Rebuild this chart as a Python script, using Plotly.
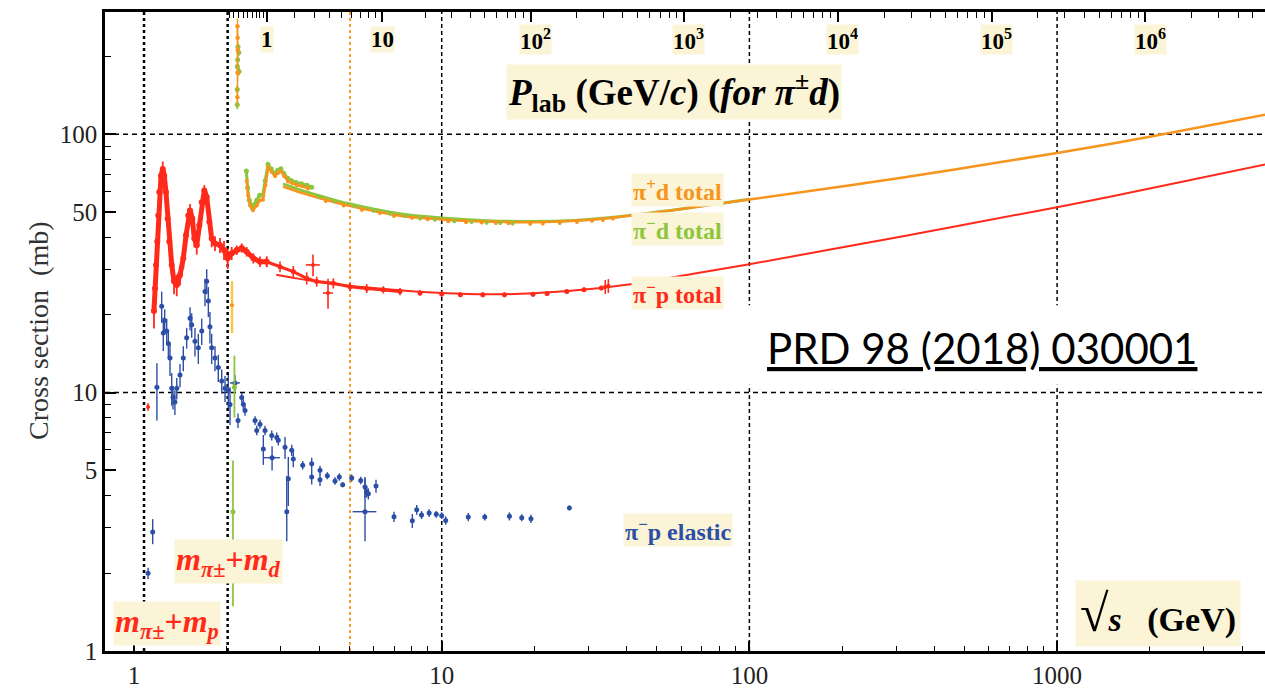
import numpy as np
import plotly.graph_objects as go

# ---------------- masses (GeV) ----------------
M_PI, M_P, M_D = 0.13957, 0.93827, 1.87561

# ---------------- pi- p total : data (resonance region) ----------------
pimp_res_x = [1.161, 1.170, 1.179, 1.190, 1.199, 1.208, 1.224, 1.240, 1.254, 1.270, 1.286, 1.302,
              1.326, 1.349, 1.377, 1.411, 1.446, 1.476, 1.501, 1.521, 1.547, 1.570, 1.599, 1.630,
              1.660, 1.692, 1.723, 1.757, 1.788, 1.833, 1.903, 1.961, 2.016, 2.077, 2.157, 2.239,
              2.324, 2.442, 2.567, 2.699]
pimp_res_y = [20.7, 25.3, 31.2, 38.4, 48.5, 59.7, 69.1, 73.4, 69.1, 59.7, 47.1, 38.4,
              31.2, 27.0, 26.1, 28.5, 33.1, 40.6, 48.5, 50.7, 47.1, 39.5, 37.2, 44.4,
              54.6, 60.5, 57.1, 45.8, 39.5, 37.8, 37.2, 35.6, 33.1, 34.6, 35.6, 36.3,
              35.1, 33.1, 32.1, 32.1]
pimp_res_err = [3, 3, 3, 3, 3, 4, 5, 5, 4, 3, 3, 3,
                3, 3, 2.5, 2.5, 3, 3, 3, 3, 3, 3, 3, 3,
                3, 3, 3, 3, 3, 2.5, 2.5, 3, 3, 2, 1.5, 1.5,
                1.5, 1.5, 1.5, 1.5]
# ---------------- pi- p total : data (above resonances) ----------------
pimp_mid_x = [2.699, 2.982, 3.294, 3.641, 3.924, 4.444, 5.035, 5.706, 6.46, 7.32]
pimp_mid_y = [32.1, 30.7, 29.4, 27.7, 26.9, 26.5, 25.7, 25.3, 25.0, 24.6]
pimp_mid_err = [1.5, 1.5, 1.5, 1.5, 1.2, 1.2, 1, 1, 0.8, 0.8]
pimp_hi_x = [8.5, 10.0, 11.5, 13.6, 16.0, 19.8, 22.0, 25.5, 29.0, 33.0]
pimp_hi_y = [24.3, 24.1, 23.9, 23.9, 23.9, 24.0, 24.2, 24.6, 25.0, 25.4]
pimp_hi_err = [0.6, 0.6, 0.5, 0.5, 0.5, 0.5, 0.5, 0.5, 0.5, 0.5]
# isolated pi- p total points (with larger errors)
pimp_iso_x = [1.111, 3.817, 4.271, 34.0, 34.8]
pimp_iso_y = [8.8, 31.2, 24.3, 25.7, 25.9]
pimp_iso_eplus = [0.3, 3.0, 3.3, 1.6, 1.6]
pimp_iso_eminus = [0.3, 3.0, 3.2, 1.6, 1.6]
pimp_iso_ex = [0.0, 0.2, 0.16, 0.0, 0.0]

# ---------------- pi- p total : fit ----------------
pimp_fit_x = [2.9, 3.3, 4.0, 5.0, 7.3, 10, 14.1, 20, 31.6, 44.7, 63.1, 100, 316, 1000, 2000, 4750]
pimp_fit_y = [28.6, 27.8, 26.8, 25.9, 24.9, 24.3, 24.0, 24.25, 25.3, 26.7, 28.6, 31.4, 40.3, 52.2,
              61.6, 76.4]

# ---------------- pi+ d / pi- d total : fits ----------------
pipd_fit_x = [3.05, 3.5, 4.0, 5.0, 7.3, 10, 14, 20, 27, 37, 54, 100, 316, 1000, 2000, 4750]
pipd_fit_y = [62.7, 59.3, 56.6, 52.8, 48.4, 46.8, 45.9, 45.6, 46.2, 47.7, 50.4, 55.9, 68.0, 84.6,
              97.8, 118.9]
pimd_fit_x = [3.05, 3.5, 4.0, 5.0, 7.3, 10, 14, 20, 27, 37, 54, 100]
pimd_fit_y = [64.2, 60.6, 57.8, 53.8, 49.2, 47.4, 46.3, 45.9, 46.4, 47.8, 50.5, 56.0]

# ---------------- pi+ d total : data ----------------
pipd_low_x = [2.324, 2.348, 2.382, 2.436, 2.505, 2.567, 2.626, 2.676, 2.732, 2.80, 2.872, 2.94,
              3.005, 3.08, 3.166, 3.27, 3.379, 3.52, 3.678]
pipd_low_y = [66.0, 58.0, 53.0, 50.8, 53.0, 55.5, 55.8, 63.5, 74.5, 71.5, 68.8, 70.8,
              71.8, 68.8, 65.6, 64.6, 63.6, 62.9, 61.7]
pipd_hi_x = [4.2, 4.8, 5.5, 6.3, 7.0, 8.0, 9.0, 10.5, 12.0, 13.5, 15.0, 16.5, 19.4, 21.3, 24.2,
             27.5, 30.8, 33.4, 36.0]
pipd_hi_y = [55.2, 53.0, 51.0, 49.6, 48.3, 47.5, 46.9, 46.0, 45.6, 45.5, 45.3, 45.2, 45.0, 45.1,
             45.3, 45.7, 46.3, 46.6, 47.2]
pipd_thr_x = [2.168, 2.171, 2.173, 2.170, 2.167]
pipd_thr_y = [262, 236, 212, 173, 139]

# ---------------- pi- d total : data ----------------
pimd_low_x = [2.318, 2.34, 2.37, 2.42, 2.46, 2.505, 2.56, 2.62, 2.67, 2.725, 2.79, 2.86, 2.93,
              3.0, 3.07, 3.16, 3.25, 3.36, 3.5, 3.65, 3.78]
pimd_low_y = [72.0, 62.0, 55.5, 52.0, 53.5, 55.5, 58.0, 58.0, 66.0, 76.5, 73.5, 70.5, 72.5,
              73.5, 70.5, 67.5, 66.0, 65.0, 64.3, 63.5, 62.4]
pimd_hi_x = [4.0, 4.5, 5.2, 6.0, 6.8, 7.6, 8.5, 9.5, 11, 12.5, 14, 15.5, 17]
pimd_hi_y = [57.0, 54.9, 52.6, 50.6, 49.2, 48.2, 47.2, 46.7, 46.0, 45.7, 45.4, 45.3, 45.1]
pimd_thr_x = [2.178, 2.19, 2.172, 2.167, 2.195, 2.166, 2.166, 2.12, 2.097]
pimd_thr_y = [218, 207, 194, 183, 175, 149, 130, 10.5, 3.46]
pimd_thr_ep = [6, 6, 6, 6, 6, 5, 5, 3.4, 2.0]
pimd_thr_em = [6, 6, 6, 6, 6, 5, 5, 2.5, 1.97]

# a single pi d point (gold)
gold_x = [2.082]
gold_y = [21.8]
gold_ep = [5.2]
gold_em = [4.8]

# ---------------- pi- p elastic ----------------
pimp_el_x = [1.111, 1.150, 1.187, 1.230, 1.245, 1.258, 1.277, 1.293, 1.309, 1.326, 1.339, 1.358,
             1.377, 1.411, 1.446, 1.483, 1.521, 1.540, 1.578, 1.618, 1.660, 1.701, 1.723, 1.744,
             1.765, 1.788, 1.833, 1.879, 1.928, 1.976, 2.025, 2.051, 2.129, 2.178, 2.239, 2.266,
             2.295, 2.474, 2.505, 2.567, 2.632, 2.665, 2.803, 2.81, 2.910, 2.944, 3.096, 3.136,
             3.173, 3.255, 3.294, 3.534, 3.78, 3.78, 4.022, 4.022, 4.249, 4.5, 4.647, 4.767,
             5.099, 5.455, 5.633, 5.706, 5.775, 5.633, 6.116, 6.998, 8.025, 8.294, 8.6, 9.1,
             9.6, 10.0, 10.3, 12.2, 13.8, 16.6, 18.2, 19.5, 26.0]
pimp_el_y = [2.0, 2.89, 10.5, 21.6, 17.0, 19.0, 17.3, 15.5, 13.6, 10.4, 9.6, 9.2,
             10.4, 11.7, 13.6, 16.3, 19.4, 18.3, 15.8, 14.9, 17.3, 24.6, 27.0, 22.6,
             18.0, 14.9, 13.6, 12.5, 11.1, 10.4, 10.2, 9.0, 10.9, 7.8, 9.57, 9.02,
             8.53, 7.80, 7.14, 7.55, 6.05, 7.14, 6.83, 5.6, 6.71, 6.54, 6.14, 3.46,
             4.64, 5.98, 5.54, 5.24, 5.30, 4.71, 5.01, 4.60, 4.77, 4.55, 4.71, 4.40,
             4.67, 4.57, 4.31, 4.13, 4.06, 3.46, 4.35, 3.31, 3.19, 3.52, 3.36, 3.42,
             3.38, 3.34, 3.2, 3.3, 3.3, 3.32, 3.28, 3.25, 3.58]
pimp_el_ep = [0.1, 0.35, 2.5, 3.0, 2.5, 2.0, 2.0, 2.0, 2.0, 1.5, 1.0, 1.0,
              1.0, 1.2, 1.5, 1.5, 2.0, 2.0, 2.0, 2.0, 2.0, 3.0, 3.0, 3.0,
              2.5, 2.0, 1.5, 1.5, 1.2, 1.2, 1.5, 1.5, 0.8, 0.5, 0.4, 0.4,
              0.4, 0.3, 0.3, 0.3, 0.8, 0.3, 0.3, 0.6, 0.3, 0.3, 0.6, 1.3,
              1.0, 0.3, 0.4, 0.2, 0.3, 0.3, 0.2, 0.25, 0.15, 0.15, 0.15, 0.1,
              0.15, 0.15, 0.4, 0.2, 0.2, 1.2, 0.25, 0.15, 0.2, 0.15, 0.12, 0.12,
              0.1, 0.1, 0.12, 0.12, 0.1, 0.12, 0.1, 0.12, 0.08]
pimp_el_em = [0.1, 0.3, 2.7, 3.0, 2.5, 2.0, 2.0, 2.0, 2.0, 1.5, 1.0, 1.0,
              1.0, 1.2, 1.5, 1.5, 2.0, 2.0, 2.0, 2.0, 2.0, 3.0, 3.0, 3.0,
              2.5, 2.0, 1.5, 1.5, 1.2, 1.2, 1.5, 1.5, 0.8, 0.5, 0.4, 0.4,
              0.4, 0.3, 0.3, 0.3, 0.8, 0.3, 0.3, 0.6, 0.3, 0.3, 0.6, 0.8,
              1.0, 0.3, 0.4, 0.2, 0.3, 0.3, 0.2, 0.25, 0.15, 0.15, 0.15, 0.1,
              0.15, 0.15, 0.4, 0.2, 0.2, 0.8, 0.25, 0.15, 0.2, 0.15, 0.12, 0.12,
              0.1, 0.1, 0.12, 0.12, 0.1, 0.12, 0.1, 0.12, 0.08]
pimp_el_ex = [0] * 32 + [0.08] + [0] * 10 + [0.17] + [0] * 21 + [0.5] + [0] * 15

# ---------------- reference lines ----------------
thresholds = [M_PI + M_P, M_PI + M_D]        # m_pi + m_p, m_pi + m_d
decade_lines_x = [10, 100, 1000]
decade_lines_y = [10, 100]
orange_line_x = [5.035]

# ---------------- axes ----------------
x_ticks = [1, 10, 100, 1000]
x_ticktext = ["1", "10", "100", "1000"]
x_minor = [m * d for d in (1, 10, 100, 1000) for m in range(2, 10) if m * d < 4800]
y_ticks = [1, 5, 10, 50, 100]
y_ticktext = ["1", "5", "10", "50", "100"]
y_minor = [2, 3, 4, 6, 7, 8, 9, 20, 30, 40, 60, 70, 80, 90, 200]
p_major = [1, 10, 100, 1000, 1e4, 1e5, 1e6]
p_labels = ["1", "10", "10<sup>2</sup>", "10<sup>3</sup>", "10<sup>4</sup>", "10<sup>5</sup>", "10<sup>6</sup>"]
p_minor = [0.1 * m for m in range(1, 10)] + [m * d for d in (1, 10, 100, 1000, 1e4, 1e5, 1e6)
                                           for m in range(2, 10) if m * d < 6e6]

X_RANGE = [-0.0943, 3.6757]
Y_RANGE = [0.0, 2.473]


def sqrt_s_pid(p):
    p = np.asarray(p, dtype=float)
    return np.sqrt(M_PI**2 + M_D**2 + 2 * M_D * np.sqrt(p**2 + M_PI**2))


RED = "#ff2a1a"
BLUE = "#2c4ea6"
ORANGE = "#f7941d"
GREEN = "#8cc63f"
GOLD = "#f9c74f"
LBG = "#fcf4d6"
SERIF = "Liberation Serif"

W, H = 1265, 689
ML, MR, MT, MB = 105, 0, 12, 34
PW, PH = W - ML - MR, H - MT - MB


def px(xp):
    return (xp - ML) / PW


def py(yp):
    return 1 - (yp - MT) / PH


fig = go.Figure()

YLO, YHI = 10 ** Y_RANGE[0], 10 ** Y_RANGE[1]

# reference lines (drawn first so they sit underneath the data)
for xv in thresholds:
    fig.add_trace(go.Scatter(x=[xv, xv], y=[YLO, YHI], mode="lines",
                             line=dict(color="black", width=2.5, dash="3px,3px"),
                             hoverinfo="skip", showlegend=False))
for xv in decade_lines_x:
    fig.add_trace(go.Scatter(x=[xv, xv], y=[YLO, YHI], mode="lines",
                             line=dict(color="black", width=1.5, dash="4px,3px"),
                             hoverinfo="skip", showlegend=False))
for yv in decade_lines_y:
    fig.add_trace(go.Scatter(x=[10 ** X_RANGE[0], 10 ** X_RANGE[1]], y=[yv, yv], mode="lines",
                             line=dict(color="black", width=1.5, dash="5px,4px"),
                             hoverinfo="skip", showlegend=False))
for xv in orange_line_x:
    fig.add_trace(go.Scatter(x=[xv, xv], y=[YLO, YHI], mode="lines",
                             line=dict(color=ORANGE, width=1.8, dash="3px,3px"),
                             hoverinfo="skip", showlegend=False))


def err(arr, minus=None, color="black", th=1.4):
    d = dict(type="data", array=arr, color=color, thickness=th, width=0, visible=True)
    if minus is not None:
        d["arrayminus"] = minus
    return d


# pi- p elastic (blue)
fig.add_trace(go.Scatter(x=pimp_el_x, y=pimp_el_y, mode="markers",
                         marker=dict(color=BLUE, size=5),
                         error_y=err(pimp_el_ep, pimp_el_em, BLUE),
                         error_x=err(pimp_el_ex, None, BLUE),
                         showlegend=False))

# gold point and pi- d threshold points
fig.add_trace(go.Scatter(x=gold_x, y=gold_y, mode="markers", marker=dict(color=ORANGE, size=4),
                         error_y=err(gold_ep, gold_em, GOLD, 2.5), showlegend=False))
fig.add_trace(go.Scatter(x=pimd_thr_x, y=pimd_thr_y, mode="markers", marker=dict(color=GREEN, size=5),
                         error_y=err(pimd_thr_ep, pimd_thr_em, GREEN, 1.8), showlegend=False))
fig.add_trace(go.Scatter(x=pipd_thr_x, y=pipd_thr_y, mode="lines+markers",
                         line=dict(color=ORANGE, width=1.5),
                         marker=dict(color=ORANGE, size=4.5),
                         error_y=dict(type="percent", value=7, color=ORANGE, thickness=1.4, width=0),
                         showlegend=False))

# pi- p total (red)
fig.add_trace(go.Scatter(x=pimp_fit_x, y=pimp_fit_y, mode="lines", line=dict(color=RED, width=2, shape="spline"),
                         showlegend=False))
fig.add_trace(go.Scatter(x=pimp_res_x, y=pimp_res_y, mode="lines+markers",
                         line=dict(color=RED, width=5), marker=dict(color=RED, size=6),
                         error_y=err(pimp_res_err, None, RED, 1.8), showlegend=False))
fig.add_trace(go.Scatter(x=pimp_mid_x, y=pimp_mid_y, mode="lines+markers",
                         line=dict(color=RED, width=3), marker=dict(color=RED, size=5),
                         error_y=err(pimp_mid_err, None, RED, 1.6), showlegend=False))
fig.add_trace(go.Scatter(x=pimp_hi_x, y=pimp_hi_y, mode="markers", marker=dict(color=RED, size=5),
                         error_y=err(pimp_hi_err, None, RED, 1.6), showlegend=False))
fig.add_trace(go.Scatter(x=pimp_iso_x, y=pimp_iso_y, mode="markers", marker=dict(color=RED, size=4),
                         error_y=err(pimp_iso_eplus, pimp_iso_eminus, RED, 1.6),
                         error_x=err(pimp_iso_ex, None, RED, 1.6), showlegend=False))

# pi d totals (green under orange)
fig.add_trace(go.Scatter(x=pimd_fit_x, y=pimd_fit_y, mode="lines", line=dict(color=GREEN, width=3, shape="spline"),
                         showlegend=False))
fig.add_trace(go.Scatter(x=pipd_fit_x, y=pipd_fit_y, mode="lines", line=dict(color=ORANGE, width=2.5, shape="spline"),
                         showlegend=False))
fig.add_trace(go.Scatter(x=pimd_low_x, y=pimd_low_y, mode="lines+markers", line=dict(color=GREEN, width=3),
                         marker=dict(color=GREEN, size=5), showlegend=False))
fig.add_trace(go.Scatter(x=pipd_low_x, y=pipd_low_y, mode="lines+markers", line=dict(color=ORANGE, width=2.5),
                         marker=dict(color=ORANGE, size=4), showlegend=False))
fig.add_trace(go.Scatter(x=pimd_hi_x, y=pimd_hi_y, mode="markers", marker=dict(color=GREEN, size=4),
                         error_y=dict(type="percent", value=1.5, color=GREEN, thickness=1.4, width=0),
                         showlegend=False))
fig.add_trace(go.Scatter(x=pipd_hi_x, y=pipd_hi_y, mode="markers", marker=dict(color=ORANGE, size=4),
                         error_y=dict(type="percent", value=1.5, color=ORANGE, thickness=1.4, width=0),
                         showlegend=False))

# helper trace so the top (P_lab) axis is drawn
top_vals = sqrt_s_pid(p_major)
fig.add_trace(go.Scatter(x=list(top_vals), y=[None] * len(top_vals), xaxis="x2", yaxis="y",
                         mode="markers", hoverinfo="skip", showlegend=False))

axis_common = dict(showgrid=False, zeroline=False, showline=True, linecolor="black", linewidth=2.5,
                   ticks="inside", tickcolor="black", tickwidth=1.5)

fig.update_layout(
    width=W, height=H,
    margin=dict(l=ML, r=MR, t=MT, b=MB, pad=0),
    paper_bgcolor="white", plot_bgcolor="white",
    showlegend=False,
    xaxis=dict(type="log", range=X_RANGE, tickmode="array", tickvals=x_ticks, ticktext=x_ticktext,
               ticklen=10, tickfont=dict(family=SERIF, size=25, color="#222"),
               minor=dict(tickmode="array", tickvals=x_minor, ticks="inside", ticklen=5,
                          tickcolor="black", tickwidth=1.2),
               **axis_common),
    xaxis2=dict(type="log", range=X_RANGE, overlaying="x", side="top", anchor="y",
                tickmode="array", tickvals=list(top_vals), ticktext=[""] * len(top_vals),
                showticklabels=False, ticklen=10,
                minor=dict(tickmode="array", tickvals=list(sqrt_s_pid(p_minor)), ticks="inside",
                           ticklen=6, tickcolor="black", tickwidth=1.2),
                **axis_common),
    yaxis=dict(type="log", range=Y_RANGE, tickmode="array", tickvals=y_ticks, ticktext=y_ticktext,
               ticklen=11, tickfont=dict(family=SERIF, size=25, color="#222"),
               minor=dict(tickmode="array", tickvals=y_minor, ticks="inside", ticklen=6,
                          tickcolor="black", tickwidth=1.2),
               **axis_common),
)

# white box behind the reference
fig.add_shape(type="rect", xref="paper", yref="paper", x0=px(748), x1=px(1215), y0=py(387), y1=py(307),
              fillcolor="white", line=dict(width=0), layer="above")

ann = []
# top P_lab tick labels
for pv, lab in zip(p_major, p_labels):
    ann.append(dict(x=float(np.log10(sqrt_s_pid(pv))), xref="x", y=py(40), yref="paper",
                    xanchor="center", yanchor="middle",
                    text="<b>" + lab + "</b>", showarrow=False, xshift=5 if "sup" in lab else 0,
                    font=dict(family=SERIF, size=23, color="black"), bgcolor=LBG, borderpad=0))


def label(text, xp, yp, color, size, family=SERIF, bg=LBG, pad=1, **kw):
    d = dict(x=px(xp), y=py(yp), xref="paper", yref="paper", text=text, showarrow=False,
             xanchor="center", yanchor="middle",
             font=dict(family=family, size=size, color=color), bgcolor=bg, borderpad=pad)
    d.update(kw)
    ann.append(d)


label("<b>π<sup>+</sup>d total</b>", 677, 191, ORANGE, 24)
label("<b>π<sup>−</sup>d total</b>", 677, 230, GREEN, 24)
label("<b>π<sup>−</sup>p total</b>", 677, 295, RED, 24)
label("<b>π<sup>−</sup>p elastic</b>", 678, 533, BLUE, 24)
label("<b><i>m</i><sub><i>π</i>±</sub>+<i>m</i><sub><i>d</i></sub></b>", 228, 565, RED, 32)
label("<b><i>m</i><sub><i>π</i>±</sub>+<i>m</i><sub><i>p</i></sub></b>", 167, 627, RED, 32)
label("<b><i>P</i><sub>lab</sub> (GeV/<i>c</i>) (<i>for π</i><sup>±</sup><i>d</i>)</b>", 674, 92, "black", 37)
label("<b><span style='font-size:52px'>√</span><i>s</i>\u00a0\u00a0 (GeV)</b>", 1158, 617, "black", 34, pad=4)
label("<u>PRD 98 (2018) 030001</u>", 982, 350, "black", 42, family="Lato", bg="rgba(0,0,0,0)")
label("Cross section\u00a0 (mb)", 38, 333, "#333", 28, bg="rgba(0,0,0,0)", textangle=-90)

fig.update_layout(annotations=ann)

fig.write_html("out.html")
